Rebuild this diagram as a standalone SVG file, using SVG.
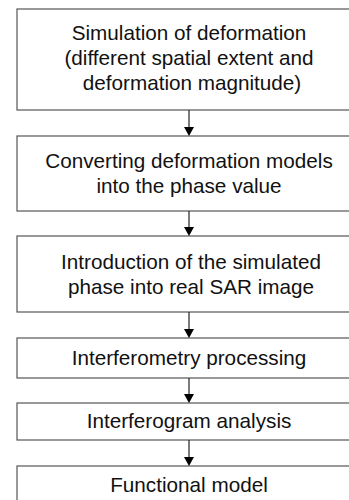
<svg xmlns="http://www.w3.org/2000/svg" width="349" height="500" viewBox="0 0 349 500">
<style>
.box{fill:#fff;stroke:#555;stroke-width:1.2}
.t{font-family:"Liberation Sans",Arial,sans-serif;font-size:20.7px;fill:#111;text-anchor:middle}
.c{stroke:#222;stroke-width:1.2;fill:none}
.h{fill:#000}
</style>
<rect width="349" height="500" fill="#fff"/>
<g id="n1"><rect class="box" x="17" y="9" width="344" height="101"/>
<text class="t" x="189" y="40">Simulation of deformation</text>
<text class="t" x="189" y="65">(different spatial extent and</text>
<text class="t" x="192" y="90">deformation magnitude)</text></g>
<g id="n2"><rect class="box" x="17" y="136" width="344" height="75"/>
<text class="t" x="189" y="168">Converting deformation models</text>
<text class="t" x="189" y="193">into the phase value</text></g>
<g id="n3"><rect class="box" x="17" y="236" width="344" height="76"/>
<text class="t" x="191" y="269">Introduction of the simulated</text>
<text class="t" x="191" y="294">phase into real SAR image</text></g>
<g id="n4"><rect class="box" x="17" y="338" width="344" height="40"/>
<text class="t" x="189" y="365">Interferometry processing</text></g>
<g id="n5"><rect class="box" x="17" y="403" width="344" height="37"/>
<text class="t" x="189" y="428">Interferogram analysis</text></g>
<g id="n6"><rect class="box" x="17" y="466" width="344" height="44"/>
<text class="t" x="189" y="492">Functional model</text></g>
<g id="connectors">
<path class="c" d="M189 110V128"/><path class="h" d="M184 127H194L189 136Z"/>
<path class="c" d="M189 211V228"/><path class="h" d="M184 227H194L189 236Z"/>
<path class="c" d="M189 312V330"/><path class="h" d="M184 329H194L189 338Z"/>
<path class="c" d="M189 378V395"/><path class="h" d="M184 394H194L189 403Z"/>
<path class="c" d="M189 440V458"/><path class="h" d="M184 457H194L189 466Z"/>
</g>
</svg>
